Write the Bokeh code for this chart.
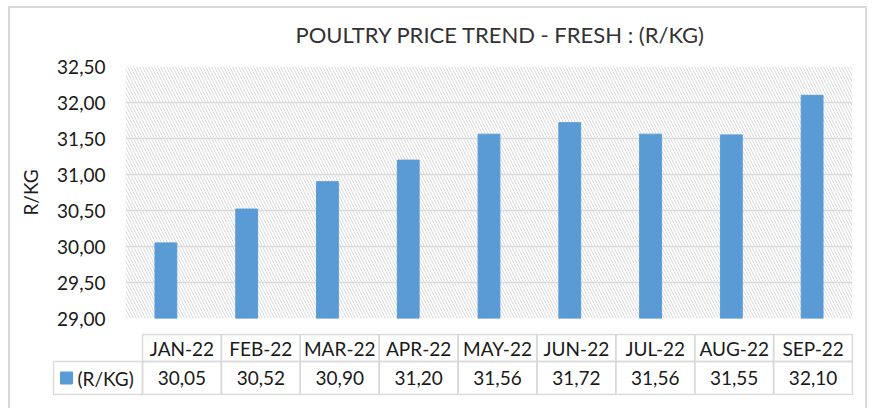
from bokeh.plotting import figure
from bokeh.models import Range1d, FixedTicker, BoxAnnotation
from bokeh.embed import file_html
from bokeh.resources import INLINE
from bokeh.core.properties import value

# ---- data ----
months = ["JAN-22", "FEB-22", "MAR-22", "APR-22", "MAY-22", "JUN-22", "JUL-22", "AUG-22", "SEP-22"]
prices = [30.05, 30.52, 30.90, 31.20, 31.56, 31.72, 31.56, 31.55, 32.10]
y_ticks = [29.0, 29.5, 30.0, 30.5, 31.0, 31.5, 32.0, 32.5]
y_tick_labels = ["29,00", "29,50", "30,00", "30,50", "31,00", "31,50", "32,00", "32,50"]
series_name = "(R/KG)"
title_text = "POULTRY PRICE TREND - FRESH : (R/KG)"
y_label = "R/KG"

FONT = "Lato"
BAR = "#5b9bd5"
GRID = "#d9d9d9"
TXT = "#1a1a1a"
BORDER = "#d9d9d9"
W = 859

# ---- title strip ----
ht = figure(width=W, height=48, x_range=Range1d(0, W), y_range=Range1d(0, 48),
            x_axis_type=None, y_axis_type=None,
            output_backend="svg", toolbar_location=None,
            margin=(6, 0, 0, 8), min_border=0,
            border_fill_color=None, background_fill_color=None, outline_line_color=None,
            styles={"box-shadow": f"inset 2px 0 0 {BORDER}, inset -2px 0 0 {BORDER}, inset 0 2px 0 {BORDER}"})
ht.grid.visible = False
ht.text(x=[287], y=[20], text=[title_text], text_align="left", text_baseline="middle",
        text_font=value(FONT), text_font_size="22px", text_color="#333333")

# ---- chart ----
p = figure(width=W, height=276, x_range=months,
           y_range=Range1d(y_ticks[0], y_ticks[-1]),
           output_backend="svg", toolbar_location=None,
           margin=(0, 0, 0, 8),
           min_border_left=117, min_border_right=15, min_border_top=12, min_border_bottom=12,
           border_fill_color=None, background_fill_color=None, outline_line_color=None,
           styles={"box-shadow": f"inset 2px 0 0 {BORDER}, inset -2px 0 0 {BORDER}"})

p.add_layout(BoxAnnotation(fill_alpha=0, line_alpha=0, hatch_pattern="\\", hatch_color="#dcdcdc",
                           hatch_scale=6, hatch_weight=1, level="underlay"))

p.vbar(x=months, top=prices, bottom=y_ticks[0], width=0.27, color=BAR)

p.xaxis.visible = False
p.xgrid.visible = False
p.ygrid.grid_line_color = GRID
p.ygrid.grid_line_width = 1.5
p.yaxis.ticker = FixedTicker(ticks=y_ticks)
p.yaxis.major_label_overrides = {t: l for t, l in zip(y_ticks, y_tick_labels)}
p.yaxis.axis_line_color = None
p.yaxis.major_tick_line_color = None
p.yaxis.minor_tick_line_color = None
p.yaxis.major_tick_out = 0
p.yaxis.major_tick_in = 0
p.yaxis.major_label_standoff = 20
p.yaxis.major_label_text_font = FONT
p.yaxis.major_label_text_font_size = "19px"
p.yaxis.major_label_text_color = TXT
p.yaxis.axis_label = y_label
p.yaxis.axis_label_text_font = FONT
p.yaxis.axis_label_text_font_size = "19px"
p.yaxis.axis_label_text_font_style = "normal"
p.yaxis.axis_label_text_color = TXT
p.yaxis.axis_label_standoff = 12

# ---- data table ----
col_px = 710 / 9.0
leg_w = 89 / col_px
pad = 1 / col_px
t = figure(width=W, height=78,
           x_range=Range1d(-leg_w - pad, len(months) + pad), y_range=Range1d(-1, 61),
           x_axis_type=None, y_axis_type=None,
           output_backend="svg", toolbar_location=None,
           margin=(0, 0, 0, 8),
           min_border_left=44, min_border_right=14, min_border_top=3, min_border_bottom=13,
           border_fill_color=None, background_fill_color=None, outline_line_color=None,
           styles={"box-shadow": f"inset 2px 0 0 {BORDER}, inset -2px 0 0 {BORDER}"})
t.grid.visible = False

idx = list(range(len(months)))
t.quad(left=idx, right=[i + 1 for i in idx], bottom=33, top=60,
       fill_color=None, line_color=GRID, line_width=1.5)
t.quad(left=[-leg_w] + idx, right=[0] + [i + 1 for i in idx], bottom=0, top=33,
       fill_color=None, line_color=GRID, line_width=1.5)

t.text(x=[i + 0.5 for i in idx], y=46.5, text=months, text_align="center", text_baseline="middle",
       text_font=value(FONT), text_font_size="19px", text_color=TXT)
t.text(x=[i + 0.5 for i in idx], y=16.5, text=[f"{v:.2f}".replace(".", ",") for v in prices],
       text_align="center", text_baseline="middle",
       text_font=value(FONT), text_font_size="19px", text_color=TXT)
t.scatter(x=[-leg_w + 13 / col_px], y=[16.5], marker="square", size=12, color=BAR)
t.text(x=[-leg_w + 24 / col_px], y=[16.5], text=[series_name], text_align="left", text_baseline="middle",
       text_font=value(FONT), text_font_size="19px", text_color=TXT)

open("out.html", "w").write(file_html([ht, p, t], INLINE))
